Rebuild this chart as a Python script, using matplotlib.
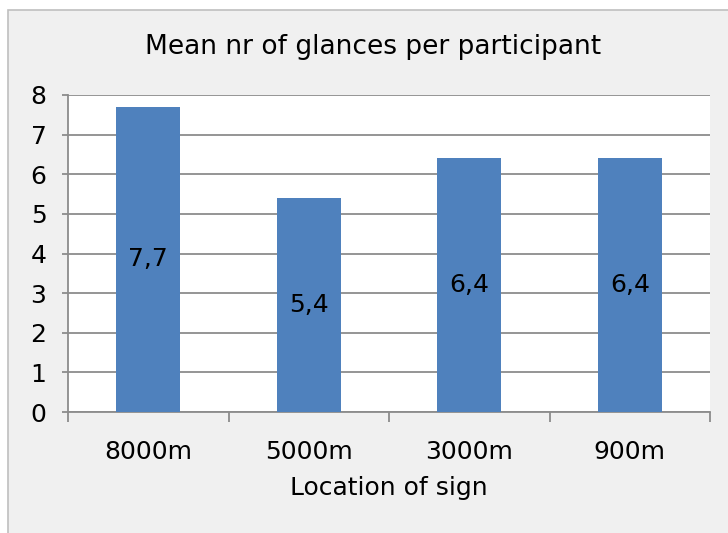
import matplotlib.pyplot as plt
from matplotlib.patches import Rectangle

locations = ["8000m", "5000m", "3000m", "900m"]
mean_glances = [7.7, 5.4, 6.4, 6.4]
y_ticks = [0, 1, 2, 3, 4, 5, 6, 7, 8]

BAR_COLOR = "#4F81BD"
GRID_COLOR = "#8C8C8C"
FONT_SIZE = 18

plt.rcParams["font.family"] = ["DejaVu Sans"]

fig = plt.figure(figsize=(7.28, 5.33), dpi=100)
fig.patch.set_facecolor("white")

# chart frame, light gray with a thin border
frame = Rectangle((8 / 728, -0.05), 1.0, 1 - 10 / 533 + 0.05,
                  transform=fig.transFigure, facecolor="#F0F0F0",
                  edgecolor="#BFBFBF", linewidth=1.2, zorder=-1)
fig.patches.append(frame)

ax = fig.add_axes([68 / 728, 1 - 412 / 533, (710 - 68) / 728, (412 - 95) / 533])
ax.set_facecolor("white")
ax.set_zorder(1)

x = list(range(len(locations)))
bars = ax.bar(x, mean_glances, width=0.4, color=BAR_COLOR, zorder=3)
labels = [f"{v:.1f}".replace(".", ",") for v in mean_glances]
ax.bar_label(bars, labels=labels, label_type="center", fontsize=FONT_SIZE,
             color="black")

ax.set_ylim(0, 8)
ax.set_yticks(y_ticks)
ax.set_xlim(-0.5, len(locations) - 0.5)
ax.set_xticks(x)
ax.set_xticklabels(locations)
ax.set_xticks([i - 0.5 for i in range(len(locations) + 1)], minor=True)

ax.yaxis.grid(True, color=GRID_COLOR, linewidth=1.3, zorder=0)
ax.set_axisbelow(True)

for side in ["top", "right"]:
    ax.spines[side].set_visible(False)
for side in ["left", "bottom"]:
    ax.spines[side].set_color(GRID_COLOR)
    ax.spines[side].set_linewidth(1.3)

ax.tick_params(axis="y", length=4.5, width=1.3, color=GRID_COLOR, pad=11,
               labelsize=FONT_SIZE)
ax.tick_params(axis="x", which="major", length=0, pad=20, labelsize=FONT_SIZE)
ax.tick_params(axis="x", which="minor", length=7, width=1.3, color=GRID_COLOR)

fig.text(373 / 728, 1 - 47 / 533, "Mean nr of glances per participant",
         ha="center", va="center", fontsize=19)
fig.text(389 / 728, 1 - 488 / 533, "Location of sign",
         ha="center", va="center", fontsize=FONT_SIZE)

fig.savefig("out.png", dpi=100, facecolor=fig.get_facecolor())
